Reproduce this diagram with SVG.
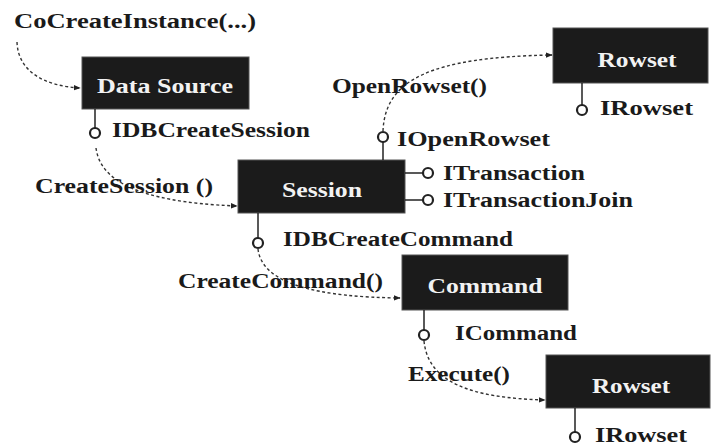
<svg xmlns="http://www.w3.org/2000/svg" width="712" height="447" viewBox="0 0 712 447" font-family="'Liberation Serif', 'DejaVu Serif', 'Times New Roman', serif">
<defs>
<marker id="arr" viewBox="0 0 10 10" refX="9" refY="5" markerWidth="7" markerHeight="7" markerUnits="userSpaceOnUse" orient="auto">
<path d="M0,1 L10,5 L0,9 Z" fill="#222"/>
</marker>
<style>
.box{fill:#1b1b1b;stroke:#555;stroke-width:1}
.bt{fill:#f2f2f2;font-family:'Liberation Serif','DejaVu Serif',serif;font-weight:bold;font-size:20px;text-anchor:middle}
.t{fill:#1a1a1a;font-family:'Liberation Serif','DejaVu Serif',serif;font-weight:bold;font-size:20px}
.stem{stroke:#222;stroke-width:1.5;fill:none}
.lol{fill:#fff;stroke:#222;stroke-width:2.2}
.dash{fill:none;stroke:#333;stroke-width:1.4;stroke-dasharray:3 2.5;marker-end:url(#arr)}
</style>
</defs>
<rect width="712" height="447" fill="#fff"/>

<g id="connectors">
<path class="dash" d="M17,42 C18,72 45,86 80,88"/>
<path class="dash" d="M96,148 C100,178 132,202 237,206"/>
<path class="dash" d="M383,131 C385,80 430,57 552,55"/>
<path class="dash" d="M258,249 C262,285 320,297 400,298"/>
<path class="dash" d="M424,341 C428,382 470,398 545,400"/>
<text class="t" x="14" y="28" textLength="242" lengthAdjust="spacingAndGlyphs">CoCreateInstance(...)</text>
<text class="t" x="35" y="193" textLength="178" lengthAdjust="spacingAndGlyphs">CreateSession ()</text>
<text class="t" x="332" y="93" textLength="155" lengthAdjust="spacingAndGlyphs">OpenRowset()</text>
<text class="t" x="178" y="288" textLength="205" lengthAdjust="spacingAndGlyphs">CreateCommand()</text>
<text class="t" x="408" y="381" textLength="102" lengthAdjust="spacingAndGlyphs">Execute()</text>
</g>

<g id="datasource">
<rect class="box" x="82" y="57" width="167" height="52"/>
<text class="bt" x="165" y="93" textLength="136" lengthAdjust="spacingAndGlyphs">Data Source</text>
<line class="stem" x1="95" y1="109" x2="95" y2="128"/>
<circle class="lol" cx="95" cy="133" r="5"/>
<text class="t" x="112" y="137" textLength="198" lengthAdjust="spacingAndGlyphs">IDBCreateSession</text>
</g>

<g id="session">
<rect class="box" x="238" y="160" width="167" height="53"/>
<text class="bt" x="322" y="197" textLength="80" lengthAdjust="spacingAndGlyphs">Session</text>
<line class="stem" x1="383" y1="160" x2="383" y2="142"/>
<circle class="lol" cx="383" cy="137" r="5"/>
<text class="t" x="397" y="146" textLength="153" lengthAdjust="spacingAndGlyphs">IOpenRowset</text>
<line class="stem" x1="405" y1="173" x2="423" y2="173"/>
<circle class="lol" cx="428" cy="173" r="5"/>
<text class="t" x="443" y="180" textLength="142" lengthAdjust="spacingAndGlyphs">ITransaction</text>
<line class="stem" x1="405" y1="200" x2="423" y2="200"/>
<circle class="lol" cx="428" cy="200" r="5"/>
<text class="t" x="443" y="207" textLength="190" lengthAdjust="spacingAndGlyphs">ITransactionJoin</text>
<line class="stem" x1="258" y1="213" x2="258" y2="238"/>
<circle class="lol" cx="258" cy="243" r="5"/>
<text class="t" x="283" y="246" textLength="230" lengthAdjust="spacingAndGlyphs">IDBCreateCommand</text>
</g>

<g id="rowset1">
<rect class="box" x="553" y="28" width="155" height="55"/>
<text class="bt" x="637" y="67" textLength="79" lengthAdjust="spacingAndGlyphs">Rowset</text>
<line class="stem" x1="582" y1="83" x2="582" y2="105"/>
<circle class="lol" cx="582" cy="110" r="5"/>
<text class="t" x="600" y="115" textLength="93" lengthAdjust="spacingAndGlyphs">IRowset</text>
</g>

<g id="command">
<rect class="box" x="402" y="255" width="166" height="55"/>
<text class="bt" x="485" y="293" textLength="115" lengthAdjust="spacingAndGlyphs">Command</text>
<line class="stem" x1="424" y1="310" x2="424" y2="330"/>
<circle class="lol" cx="424" cy="335" r="5"/>
<text class="t" x="455" y="340" textLength="122" lengthAdjust="spacingAndGlyphs">ICommand</text>
</g>

<g id="rowset2">
<rect class="box" x="546" y="355" width="164" height="53"/>
<text class="bt" x="631" y="393" textLength="78" lengthAdjust="spacingAndGlyphs">Rowset</text>
<line class="stem" x1="575" y1="408" x2="575" y2="432" stroke-width="1"/>
<circle class="lol" cx="575" cy="437" r="5"/>
<text class="t" x="595" y="442" textLength="92" lengthAdjust="spacingAndGlyphs">IRowset</text>
</g>
</svg>
